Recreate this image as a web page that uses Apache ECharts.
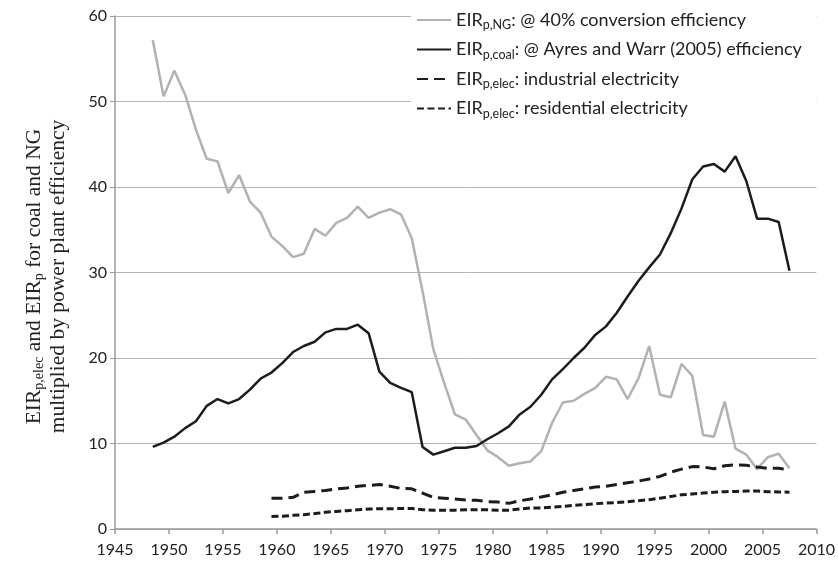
<!DOCTYPE html>
<html>
<head>
<meta charset="utf-8">
<script src="https://cdn.jsdelivr.net/npm/echarts@6/dist/echarts.min.js"></script>
<style>html,body{margin:0;padding:0;background:#fff}#c{width:838px;height:568px}</style>
</head>
<body>
<div id="c"></div>
<script>
const years = [1948,1949,1950,1951,1952,1953,1954,1955,1956,1957,1958,1959,1960,1961,1962,1963,1964,1965,1966,1967,1968,1969,1970,1971,1972,1973,1974,1975,1976,1977,1978,1979,1980,1981,1982,1983,1984,1985,1986,1987,1988,1989,1990,1991,1992,1993,1994,1995,1996,1997,1998,1999,2000,2001,2002,2003,2004,2005,2006,2007];
const ngValues = [57.2,50.6,53.6,50.8,46.7,43.3,43.0,39.3,41.4,38.3,37.0,34.2,33.1,31.8,32.2,35.1,34.3,35.8,36.4,37.7,36.4,37.0,37.4,36.8,34.0,27.8,21.0,17.1,13.4,12.8,11.0,9.2,8.4,7.4,7.7,7.9,9.1,12.4,14.8,15.0,15.8,16.5,17.8,17.5,15.2,17.6,21.4,15.7,15.4,19.3,17.9,11.0,10.8,14.9,9.4,8.7,7.0,8.4,8.8,7.1];
const coalValues = [9.6,10.1,10.8,11.8,12.6,14.4,15.2,14.7,15.2,16.3,17.6,18.3,19.4,20.7,21.4,21.9,23.0,23.4,23.4,23.9,22.9,18.4,17.1,16.5,16.0,9.6,8.7,9.1,9.5,9.5,9.7,10.5,11.2,12.0,13.4,14.3,15.7,17.5,18.7,20.0,21.2,22.7,23.7,25.3,27.2,29.0,30.6,32.1,34.6,37.5,40.9,42.4,42.7,41.8,43.6,40.7,36.3,36.3,35.9,30.2];
const industrialValues = [null,null,null,null,null,null,null,null,null,null,null,3.6,3.6,3.7,4.3,4.4,4.5,4.7,4.8,5.0,5.1,5.2,5.0,4.75,4.7,4.2,3.7,3.6,3.5,3.4,3.35,3.2,3.15,3.0,3.3,3.5,3.75,4.0,4.3,4.5,4.7,4.9,5.0,5.2,5.4,5.6,5.85,6.15,6.65,7.0,7.3,7.25,7.05,7.4,7.5,7.45,7.25,7.1,7.1,6.95];
const residentialValues = [null,null,null,null,null,null,null,null,null,null,null,1.47,1.5,1.6,1.67,1.8,1.95,2.06,2.14,2.26,2.33,2.37,2.37,2.4,2.4,2.26,2.2,2.2,2.2,2.26,2.26,2.26,2.2,2.2,2.33,2.45,2.45,2.57,2.65,2.76,2.84,2.96,3.04,3.1,3.2,3.3,3.43,3.6,3.8,4.0,4.1,4.2,4.3,4.36,4.4,4.44,4.44,4.36,4.33,4.3];
const seriesNames = ['NG','coal','industrial','residential'];
const legendSubs = ['p,NG','p,coal','p,elec','p,elec'];
const legendTexts = [': @ 40% conversion efficiency', ': @ Ayres and Warr (2005) efficiency', ': industrial electricity', ': residential electricity'];
const xTicks = {min:1945, max:2010, interval:5};
const yTicks = {min:0, max:60, interval:10};

function pts(vals){ return years.map((y,i)=>[y+0.5, vals[i]]); }

const chart = echarts.init(document.getElementById('c'), null, {renderer:'canvas'});
const sans = 'Lato';
chart.setOption({
  animation:false,
  backgroundColor:'#fff',
  grid:{left:115,right:21,top:16,bottom:39},
  xAxis:{type:'value',min:xTicks.min,max:xTicks.max,interval:xTicks.interval,
    axisLine:{lineStyle:{color:'#9a9a9a',width:1.5}},
    axisTick:{show:true,length:5,lineStyle:{color:'#9a9a9a',width:1.5}},
    axisLabel:{fontFamily:sans,fontSize:16,color:'#222',margin:13,formatter:function(v){return String(v);}},
    splitLine:{show:false}},
  yAxis:{type:'value',min:yTicks.min,max:yTicks.max,interval:yTicks.interval,
    axisLine:{show:true,lineStyle:{color:'#9a9a9a',width:1.5}},
    axisTick:{show:true,length:5,lineStyle:{color:'#9a9a9a'}},
    axisLabel:{fontFamily:sans,fontSize:16,color:'#222',margin:8},
    splitLine:{lineStyle:{color:'#b4b4b4',width:1}},
    name:'{m|EIR}{s|p,elec}{m| and EIR}{s|p}{m| for coal and NG}\n{m|multiplied by power plant efficiency}',
    nameLocation:'middle',nameRotate:90,nameGap:45,
    nameTextStyle:{align:'center',padding:[0,8,0,0],rich:{
      m:{fontFamily:'Liberation Serif',fontSize:21.5,color:'#222',lineHeight:24},
      s:{fontFamily:'Liberation Serif',fontSize:14,color:'#222',lineHeight:12,verticalAlign:'bottom'}}}},
  legend:{orient:'vertical',left:411,top:8,itemWidth:34,itemHeight:14,itemGap:9,
    backgroundColor:'#fff',padding:[3,14,6,5],
    itemStyle:{opacity:0},
    data:seriesNames,
    formatter:function(n){const i=seriesNames.indexOf(n);return '{m|EIR}{s|'+legendSubs[i]+'}{m|'+legendTexts[i]+'}';},
    textStyle:{rich:{
      m:{fontFamily:sans,fontSize:18,color:'#222',lineHeight:23},
      s:{fontFamily:sans,fontSize:12.5,color:'#222',lineHeight:12,verticalAlign:'bottom'}}}},
  series:[
    {name:'NG',type:'line',data:pts(ngValues),symbol:'none',lineStyle:{color:'#b2b2b2',width:2.5},itemStyle:{color:'#b2b2b2'}},
    {name:'coal',type:'line',data:pts(coalValues),symbol:'none',lineStyle:{color:'#1c1c1c',width:2.5},itemStyle:{color:'#1c1c1c'}},
    {name:'industrial',type:'line',data:pts(industrialValues),symbol:'none',lineStyle:{color:'#1c1c1c',width:3,type:[11,6]},itemStyle:{color:'#1c1c1c'}},
    {name:'residential',type:'line',data:pts(residentialValues),symbol:'none',lineStyle:{color:'#1c1c1c',width:3,type:[7,3.5]},itemStyle:{color:'#1c1c1c'}}
  ]
});
</script>
</body>
</html>
